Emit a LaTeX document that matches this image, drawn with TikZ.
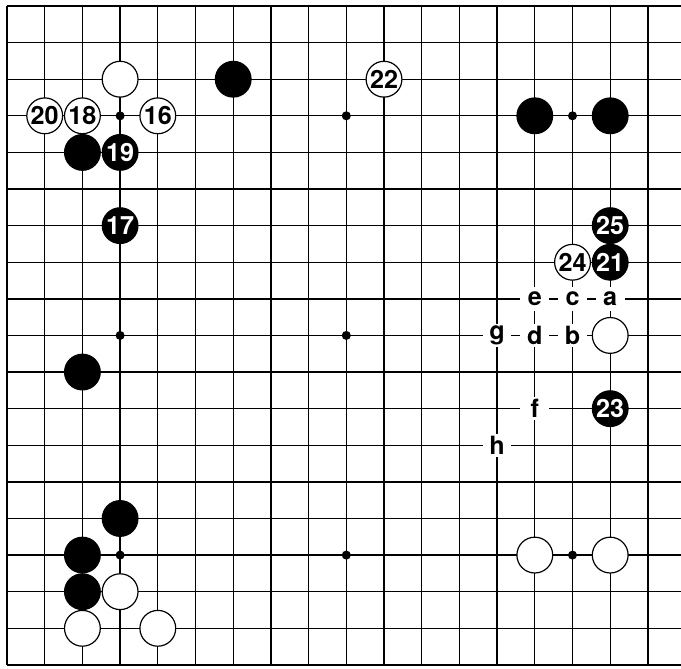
\documentclass[tikz,border=0pt]{standalone}
\usepackage{fontspec}
\setmainfont{TeX Gyre Heros}

\begin{document}
\begin{tikzpicture}[x=1cm,y=-0.971cm,font=\fontsize{19}{19}\selectfont\bfseries,
  every node/.style={inner sep=0pt},
  blk/.style={circle,draw,fill=black,text=white,minimum size=0.95cm,line width=0.8pt},
  wht/.style={circle,draw,fill=white,minimum size=0.95cm,line width=0.9pt},
  lbl/.style={fill=white,minimum width=0.76cm,minimum height=0.62cm},
  hoshi/.style={circle,fill=black,minimum size=0.24cm}]
  \useasboundingbox (0.814,0.836) rectangle (18.878,19.087);
  \clip (0.814,0.836) rectangle (18.878,19.087);
  % board
  \foreach \i in {1,...,19} {
    \draw[line width=1pt] (1,\i) -- (19.5,\i);
    \draw[line width=1pt] (\i,1) -- (\i,19);
  }
  \foreach \p [count=\k] in {(4,4),(10,4),(16,4),(4,10),(10,10),(4,16),(10,16),(16,16)}
    \node[hoshi] (hs\k) at \p {};
  % stones without numbers
  \node[wht] (w1) at (4,3) {};
  \node[wht] (w2) at (17,10) {};
  \node[wht] (w3) at (15,16) {};
  \node[wht] (w4) at (17,16) {};
  \node[wht] (w5) at (4,17) {};
  \node[wht] (w6) at (3,18) {};
  \node[wht] (w7) at (5,18) {};
  \node[blk] (k1) at (7,3) {};
  \node[blk] (k2) at (15,4) {};
  \node[blk] (k3) at (17,4) {};
  \node[blk] (k4) at (3,5) {};
  \node[blk] (k5) at (3,11) {};
  \node[blk] (k6) at (4,15) {};
  \node[blk] (k7) at (3,16) {};
  \node[blk] (k8) at (3,17) {};
  % numbered moves
  \node[wht] (m16) at (5,4) {16};
  \node[blk] (m17) at (4,7) {17};
  \node[wht] (m18) at (3,4) {18};
  \node[blk] (m19) at (4,5) {19};
  \node[wht] (m20) at (2,4) {20};
  \node[blk] (m21) at (17,8) {21};
  \node[wht] (m22) at (11,3) {22};
  \node[blk] (m23) at (17,12) {23};
  \node[wht] (m24) at (16,8) {24};
  \node[blk] (m25) at (17,7) {25};
  % points
  \node[lbl] (a) at (17,9) {a};
  \node[lbl] (b) at (16,10) {b};
  \node[lbl] (c) at (16,9) {c};
  \node[lbl] (d) at (15,10) {d};
  \node[lbl] (e) at (15,9) {e};
  \node[lbl] (f) at (15,12) {f};
  \node[lbl] (g) at (14,10) {g};
  \node[lbl] (h) at (14,13) {h};
\end{tikzpicture}
\end{document}
